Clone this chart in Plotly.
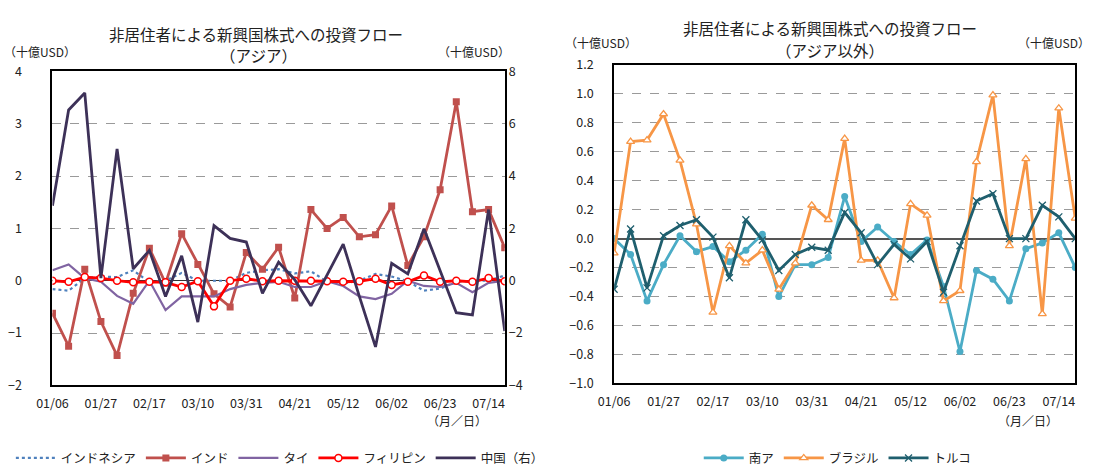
import plotly.graph_objects as go

dates = ["01/06", "01/13", "01/20", "01/27", "02/03", "02/10", "02/17", "02/24", "03/03", "03/10",
         "03/17", "03/24", "03/31", "04/07", "04/14", "04/21", "04/28", "05/05", "05/12", "05/19",
         "05/26", "06/02", "06/09", "06/16", "06/23", "06/30", "07/07", "07/14", "07/21"]
tick_dates = ["01/06", "01/27", "02/17", "03/10", "03/31", "04/21", "05/12", "06/02", "06/23", "07/14"]

# Asia (left axis, bn USD)
indonesia = [-0.16, -0.19, 0.05, 0.08, 0.07, 0.20, -0.03, 0.00, 0.15, 0.00,
             0.00, 0.00, 0.15, 0.20, 0.22, 0.14, 0.18, -0.02, -0.05, 0.00,
             0.13, 0.08, -0.01, -0.19, -0.15, -0.02, 0.00, 0.00, 0.10]
india = [-0.62, -1.25, 0.22, -0.78, -1.43, -0.24, 0.62, -0.05, 0.90, 0.31,
         -0.25, -0.50, 0.54, 0.22, 0.64, -0.33, 1.36, 1.00, 1.21, 0.84,
         0.88, 1.43, 0.29, 0.84, 1.74, 3.42, 1.32, 1.36, 0.63]
thai = [0.20, 0.31, 0.05, -0.02, -0.29, -0.44, 0.00, -0.56, -0.30, -0.30,
        -0.30, -0.16, -0.08, -0.04, -0.02, -0.12, -0.12, -0.01, -0.10, -0.30,
        -0.35, -0.25, 0.00, -0.10, -0.12, -0.04, -0.22, -0.04, 0.00]
philippines = [0.00, -0.02, 0.07, 0.05, 0.00, -0.03, -0.02, -0.03, -0.12, -0.01,
               -0.49, 0.00, 0.04, -0.01, 0.00, 0.00, 0.00, -0.01, -0.02, -0.01,
               0.04, -0.08, -0.02, 0.10, -0.02, 0.00, -0.02, 0.05, -0.01]
# China (right axis)
china = [2.87, 6.53, 7.18, 0.10, 5.04, 0.46, 1.16, -0.60, 0.95, -1.58,
         2.11, 1.62, 1.48, -0.48, 0.71, 0.04, -0.96, 0.22, 1.40, -0.60,
         -2.53, 0.67, 0.26, 1.99, 0.40, -1.22, -1.31, 2.72, -1.92]

# Non-Asia
south_africa = [0.00, -0.11, -0.43, -0.18, 0.02, -0.09, -0.055, -0.16, -0.08, 0.03,
                -0.40, -0.18, -0.18, -0.13, 0.29, -0.02, 0.08, -0.02, -0.11, -0.01,
                -0.33, -0.78, -0.22, -0.28, -0.43, -0.07, -0.03, 0.04, -0.20]
brazil = [-0.10, 0.67, 0.68, 0.86, 0.54, 0.10, -0.51, -0.05, -0.17, -0.08,
          -0.35, -0.17, 0.23, 0.13, 0.69, -0.15, -0.15, -0.41, 0.24, 0.16,
          -0.43, -0.36, 0.53, 0.99, -0.05, 0.55, -0.52, 0.90, 0.14]
turkey = [-0.35, 0.066, -0.34, 0.02, 0.09, 0.13, 0.01, -0.27, 0.13, -0.01,
          -0.22, -0.11, -0.06, -0.08, 0.18, 0.04, -0.18, -0.04, -0.14, -0.02,
          -0.37, -0.05, 0.26, 0.31, 0.00, 0.00, 0.23, 0.15, 0.00]

FONT = "Noto Sans CJK JP"
W, H = 1093, 474

fig = go.Figure()

# ---------- left chart ----------
fig.add_trace(go.Scatter(x=dates, y=indonesia, name="インドネシア", mode="lines",
                         line=dict(color="#4F81BD", width=2.2, dash="dot"),
                         xaxis="x", yaxis="y", legend="legend"))
fig.add_trace(go.Scatter(x=dates, y=india, name="インド", mode="lines+markers",
                         line=dict(color="#C0504D", width=2.8),
                         marker=dict(symbol="square", size=7, color="#C0504D"),
                         xaxis="x", yaxis="y", legend="legend"))
fig.add_trace(go.Scatter(x=dates, y=thai, name="タイ", mode="lines",
                         line=dict(color="#8064A2", width=2.2),
                         xaxis="x", yaxis="y", legend="legend"))
fig.add_trace(go.Scatter(x=dates, y=philippines, name="フィリピン", mode="lines+markers",
                         line=dict(color="#FF0000", width=2.8),
                         marker=dict(symbol="circle", size=7, color="white",
                                     line=dict(color="#FF0000", width=1.5)),
                         xaxis="x", yaxis="y", legend="legend"))
fig.add_trace(go.Scatter(x=dates, y=china, name="中国（右）", mode="lines",
                         line=dict(color="#3D3158", width=2.8),
                         xaxis="x", yaxis="y2", legend="legend"))

# ---------- right chart ----------
fig.add_trace(go.Scatter(x=dates, y=south_africa, name="南ア", mode="lines+markers",
                         line=dict(color="#4BACC6", width=2.8),
                         marker=dict(symbol="circle", size=7, color="#4BACC6"),
                         xaxis="x2", yaxis="y3", legend="legend2"))
fig.add_trace(go.Scatter(x=dates, y=brazil, name="ブラジル", mode="lines+markers",
                         line=dict(color="#F79646", width=2.8),
                         marker=dict(symbol="triangle-up", size=7, color="white",
                                     line=dict(color="#F79646", width=1.3)),
                         xaxis="x2", yaxis="y3", legend="legend2"))
fig.add_trace(go.Scatter(x=dates, y=turkey, name="トルコ", mode="lines+markers",
                         line=dict(color="#1F5F6E", width=2.8),
                         marker=dict(symbol="x-thin", size=7,
                                     line=dict(color="#1F5F6E", width=1.3)),
                         xaxis="x2", yaxis="y3", legend="legend2"))

L_x = [37 / W, 496 / W]
L_y = [1 - 390 / H, 1 - 63 / H]
R_x = [607 / W, 1075 / W]
R_y = [1 - 388 / H, 1 - 56 / H]

tickfont = dict(family=FONT, size=12.5, color="#222")
xcommon = dict(type="category", tickmode="array", tickvals=tick_dates, ticktext=tick_dates,
               range=[0, len(dates) - 1], showgrid=False, showline=True, mirror=True,
               linecolor="black", linewidth=2, ticks="", tickfont=tickfont, zeroline=False,
               ticklabelstandoff=6)

fig.update_layout(
    width=W, height=H, margin=dict(l=0, r=0, t=0, b=0),
    paper_bgcolor="white", plot_bgcolor="white",
    font=dict(family=FONT, size=12, color="#222"),
    xaxis=dict(domain=L_x, anchor="y", **xcommon),
    yaxis=dict(domain=L_y, anchor="x", range=[-2, 4], dtick=1, tickformat="d",
               showgrid=True, gridcolor="#9a9a9a", griddash="dash", gridwidth=1,
               zeroline=True, zerolinecolor="#333", zerolinewidth=1,
               showline=True, mirror=True, linecolor="black", linewidth=2,
               ticks="", tickfont=tickfont, ticklabelstandoff=26),
    yaxis2=dict(overlaying="y", anchor="x", side="right", range=[-4, 8], dtick=2,
                showgrid=False, zeroline=False, showline=False, ticks="",
                tickfont=tickfont, ticklabelstandoff=3),
    xaxis2=dict(domain=R_x, anchor="y3", **xcommon),
    yaxis3=dict(domain=R_y, anchor="x2", range=[-1.0, 1.2], dtick=0.2, tickformat=".1f",
                showgrid=True, gridcolor="#9a9a9a", griddash="dash", gridwidth=1,
                zeroline=True, zerolinecolor="#555", zerolinewidth=1.5,
                showline=True, mirror=True, linecolor="black", linewidth=2,
                ticks="", tickfont=tickfont, ticklabelstandoff=16),
    legend=dict(orientation="h", x=0.245, xanchor="center", y=1 - 466 / H, yanchor="middle",
                font=dict(family=FONT, size=12.5, color="#222"), bgcolor="rgba(0,0,0,0)",
                itemwidth=40, tracegroupgap=0),
    legend2=dict(orientation="h", x=0.763, xanchor="center", y=1 - 466 / H, yanchor="middle",
                 font=dict(family=FONT, size=12.5, color="#222"), bgcolor="rgba(0,0,0,0)",
                 itemwidth=40),
    showlegend=True,
)

ann = []
def text(x, y, t, size=12, xanchor="center"):
    ann.append(dict(x=x / W, y=1 - y / H, xref="paper", yref="paper", text=t, showarrow=False,
                    xanchor=xanchor, yanchor="middle",
                    font=dict(family=FONT, size=size, color="#222")))

text(244, 24, "非居住者による新興国株式への投資フロー", 15.5)
text(246, 46, "（アジア）", 15.5)
text(24, 42, "（十億USD）", 12)
text(503, 42, "（十億USD）", 12, xanchor="right")
text(448, 427, "（月／日）", 12)

text(826, 18, "非居住者による新興国株式への投資フロー", 15.5)
text(826, 41, "（アジア以外）", 15.5)
text(594, 33, "（十億USD）", 12)
text(1092, 33, "（十億USD）", 12, xanchor="right")
text(1027, 427, "（月／日）", 12)

fig.update_layout(annotations=ann)
fig.write_html("out.html")
